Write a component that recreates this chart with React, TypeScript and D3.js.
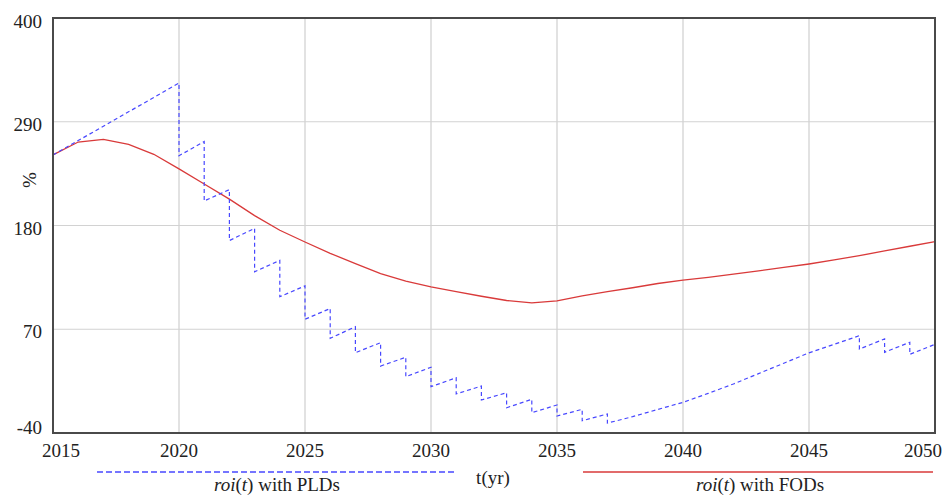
import React from 'react';
import * as d3 from 'd3';

// roi(t) with PLDs: sawtooth, repeated years are the vertical drops
const pldYears = [
  2015, 2020, 2020, 2021, 2021, 2022, 2022, 2023, 2023, 2024, 2024, 2025, 2025,
  2026, 2026, 2027, 2027, 2028, 2028, 2029, 2029, 2030, 2030, 2031, 2031, 2032, 2032,
  2033, 2033, 2034, 2034, 2035, 2035, 2036, 2036, 2037, 2037, 2038, 2039, 2040,
  2041, 2042, 2043, 2044, 2045, 2046, 2047, 2047, 2048, 2048, 2049, 2049, 2050,
];
const pldValues = [
  254.8, 331, 254, 269, 206, 218, 164, 177, 131, 143, 104.5, 116, 80.6,
  92, 60.4, 72.7, 45.1, 55.8, 31, 40.3, 19.7, 29.7, 9.1, 18.6, 1.4, 9.8, -5,
  2.7, -13.2, -4.3, -18.5, -10.3, -22, -14.9, -27, -19.8, -29.5, -22.7, -15, -7.5,
  2, 12, 23, 34, 45, 54, 63.2, 49, 59.7, 45.6, 56.2, 43.4, 54,
];

// roi(t) with FODs, yearly
const fodYears = d3.range(2015, 2051);
const fodValues = [
  254.8, 268.5, 271.4, 266, 255.5, 240, 224, 208, 190.5, 175, 162.5, 150.5,
  139.5, 129, 121, 115, 110, 105, 100.5, 98, 100, 105.5, 110, 114, 118.5,
  122, 125, 128.5, 132, 135.5, 139.2, 143.5, 148, 153, 158, 163,
];

const xTicks = [2015, 2020, 2025, 2030, 2035, 2040, 2045, 2050];
const yTicks = [-40, 70, 180, 290, 400];

const W = 944;
const H = 496;
const left = 53;
const right = 935;
const top = 18;
const bottom = 433;
const txt: React.CSSProperties = {
  fontFamily: "'Liberation Serif', 'DejaVu Serif', serif",
  fontSize: '19px',
  fill: '#222',
};

export default function App() {
  const x = d3.scaleLinear().domain([2015, 2050]).range([left, right]);
  const y = d3.scaleLinear().domain([-40, 400]).range([bottom, top]);

  const line = d3.line<[number, number]>()
    .x((d) => x(d[0]))
    .y((d) => y(d[1]));

  const pld = line(pldYears.map((t, i) => [t, pldValues[i]]) as [number, number][]) || '';
  const fod = line(fodYears.map((t, i) => [t, fodValues[i]]) as [number, number][]) || '';

  return (
    <svg width={W} height={H} style={{ position: 'absolute', left: 0, top: 0, background: '#fff' }}>
      {/* grid */}
      {xTicks.slice(1, -1).map((t) => (
        <line key={'gx' + t} x1={x(t)} x2={x(t)} y1={top} y2={bottom} stroke="#cfcfcf" strokeWidth={1.2} />
      ))}
      {yTicks.slice(1, -1).map((v) => (
        <line key={'gy' + v} x1={left} x2={right} y1={y(v)} y2={y(v)} stroke="#d2d2d2" strokeWidth={1.2} />
      ))}

      {/* series */}
      <path d={fod} fill="none" stroke="#d93a3a" strokeWidth={1.3} />
      <path d={pld} fill="none" stroke="#4848ff" strokeWidth={1.2} strokeDasharray="4 3" />

      {/* frame */}
      <rect x={left} y={top} width={right - left} height={bottom - top} fill="none" stroke="#4a4a4a" strokeWidth={2} />

      {/* x tick labels */}
      {xTicks.map((t) => {
        const cx = Math.min(Math.max(x(t), 61), 923);
        return (
          <text key={'xt' + t} x={cx} y={457} textAnchor="middle" style={txt}>
            {t}
          </text>
        );
      })}

      {/* y tick labels */}
      {yTicks.map((v) => {
        const cy = Math.min(Math.max(y(v) + 2.5, 21), 427.5);
        return (
          <text key={'yt' + v} x={42} y={cy + 6.5} textAnchor="end" style={txt}>
            {v}
          </text>
        );
      })}

      <text transform="translate(36,180) rotate(-90)" textAnchor="middle" style={txt}>
        %
      </text>

      {/* legend */}
      <line x1={97} x2={456} y1={472} y2={472} stroke="#4848ff" strokeWidth={1.5} strokeDasharray="6 3" />
      <text x={277} y={491} textAnchor="middle" style={txt}>
        <tspan fontStyle="italic">roi</tspan>(<tspan fontStyle="italic">t</tspan>) with PLDs
      </text>
      <text x={493} y={484} textAnchor="middle" style={txt}>
        t(yr)
      </text>
      <line x1={583} x2={933} y1={472} y2={472} stroke="#d93a3a" strokeWidth={1.5} />
      <text x={760} y={491} textAnchor="middle" style={txt}>
        <tspan fontStyle="italic">roi</tspan>(<tspan fontStyle="italic">t</tspan>) with FODs
      </text>
    </svg>
  );
}
